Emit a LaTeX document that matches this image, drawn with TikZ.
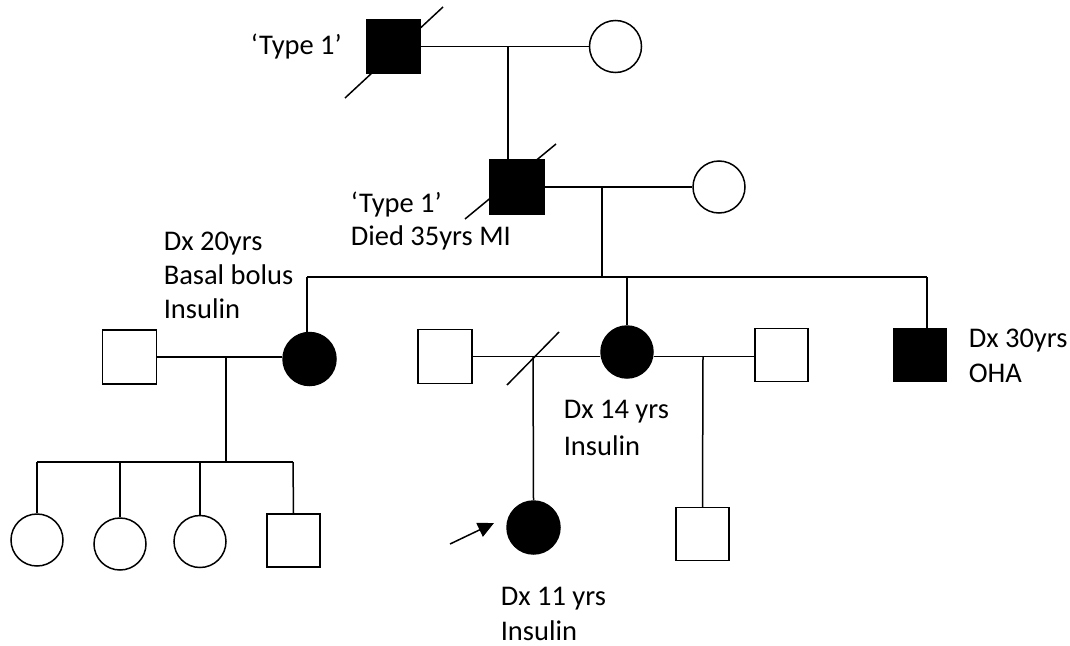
\documentclass[tikz,border=0pt]{standalone}
\usepackage{fontspec}
\setmainfont{Carlito}
\usetikzlibrary{arrows.meta,calc}
\begin{document}
\begin{tikzpicture}[x=1pt,y=-1pt,line width=1.5pt,
  male/.style={draw,rectangle,minimum size=53pt,inner sep=0pt},
  female/.style={draw,circle,minimum size=52pt,inner sep=0pt},
  aff/.style={fill=black},
  lbl/.style={anchor=base west,align=left,inner sep=0pt,font=\fontsize{28.5}{35}\selectfont}]
\useasboundingbox (0,0) rectangle (1070,645);
% Generation I
\node[male,aff] (g1m) at (393.5,46.5) {};
\node[female] (g1f) at (615.5,46.5) {};
\draw (g1m.east) -- (g1f.west);
\draw ($(g1m)+(-48.5,51.5)$) -- ($(g1m)+(49.5,-39.5)$);
\coordinate (c1) at (508,46.5);
% Generation II
\node[male,aff,minimum size=54pt] (g2m) at (517,187) {};
\node[female] (g2f) at (719,187) {};
\draw (c1) -- (c1 |- g2m.north);
\draw (g2m.east) -- (g2f.west);
\draw ($(g2m)+(-52,32)$) -- ($(g2m)+(39,-43)$);
\coordinate (c2) at (602,187);
\coordinate (sl) at (307,277);
\coordinate (sm) at (627,277);
\coordinate (sr) at (927,277);
\draw (c2) -- (c2 |- sl);
\draw (sl) -- (sr);
% Generation III
\node[male,minimum size=54pt] (g3a) at (129.5,357) {};
\node[female,aff,minimum size=53pt] (g3b) at (309.5,359) {};
\draw (g3a.east) -- (g3a.east -| g3b.west);
\draw (sl) -- (sl |- g3b.north);
\coordinate (c3) at (226,357);
\coordinate (kl) at (37,462);
\coordinate (kr) at (293,462);
\draw (c3) -- (c3 |- kl);
\draw (kl) -- (kr);
\node[female] (k1) at (37,540) {};
\node[female] (k2) at (120,544) {};
\node[female] (k3) at (200,541.5) {};
\node[male] (k4) at (293.5,540.5) {};
\coordinate (d2) at (120,462);
\coordinate (d3) at (200,462);
\draw (kl) -- (k1.north);
\draw (d2) -- (k2.north);
\draw (d3) -- (k3.north);
\draw (kr) -- (k4.north);
\node[male,minimum size=54pt] (g3c) at (445,356.5) {};
\node[female,aff] (g3d) at (627,352) {};
\node[male] (g3e) at (781.5,355) {};
\draw (g3c.east) -- (g3c.east -| g3d.west);
\draw (g3c.east -| g3d.east) -- (g3c.east -| g3e.west);
\draw (sm) -- (g3d.north);
\draw (507,385) -- (559,332);
\coordinate (c4) at (533,356.5);
\node[female,aff,minimum size=53pt] (p) at (533.5,527.5) {};
\draw (c4) -- (p.north);
\coordinate (ar) at (450,544);
\coordinate (at) at (494,523);
\draw[-{Triangle[length=16pt,width=15pt]}] (ar) -- (at);
\coordinate (c5) at (703,356.5);
\node[male] (g4) at (702.5,534) {};
\draw (c5) -- (g4.north);
\node[male,aff,minimum size=52pt] (g3f) at (920,355) {};
\draw (sr) -- (sr |- g3f.north);
% Labels (anchor = baseline of last line)
\node[lbl] (t1) at (250,54) {‘Type 1’};
\node[lbl,font=\fontsize{28.5}{33}\selectfont] (t2) at (350,245) {‘Type 1’\\Died 35yrs MI};
\node[lbl,font=\fontsize{28.5}{34}\selectfont] (t3) at (163,318) {Dx 20yrs\\Basal bolus\\Insulin};
\node[lbl,font=\fontsize{28.5}{37}\selectfont] (t4) at (563,455) {Dx 14 yrs\\Insulin};
\node[lbl] (t5) at (500,640) {Dx 11 yrs\\Insulin};
\node[lbl] (t6) at (968,382) {Dx 30yrs\\OHA};
\end{tikzpicture}
\end{document}
